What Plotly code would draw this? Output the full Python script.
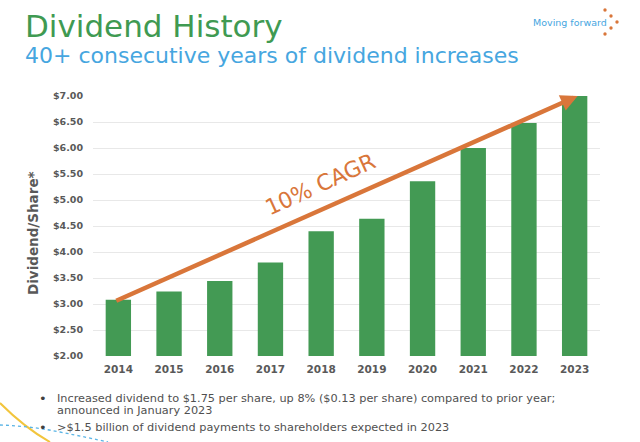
import plotly.graph_objects as go

years = ["2014","2015","2016","2017","2018","2019","2020","2021","2022","2023"]
dividends = [3.08,3.24,3.44,3.80,4.40,4.64,5.36,6.00,6.48,7.00]
y_ticks = [2.0,2.5,3.0,3.5,4.0,4.5,5.0,5.5,6.0,6.5,7.0]
y_labels = ["$%.2f" % v for v in y_ticks]
arrow_start = (-0.07, 3.05)
arrow_end = (9.06, 7.0)

W, H = 640, 442
px = lambda x: x / W
py = lambda y: 1 - y / H
FONT = "DejaVu Sans"
GREEN = "#439A54"
ORANGE = "#D9763A"
BLUE = "#46A6DF"
GRAY = "#595959"

fig = go.Figure(go.Bar(x=years, y=dividends, marker=dict(color=GREEN, line=dict(width=0)), width=0.5,
                       hoverinfo="skip"))

def text(x, y, s, size, color, anchor="left", weight=None, angle=0, va="middle"):
    fig.add_annotation(xref="paper", yref="paper", x=px(x), y=py(y), text=s, showarrow=False,
                       xanchor=anchor, yanchor=va, textangle=angle, borderpad=0, borderwidth=0,
                       font=dict(family=FONT, size=size, color=color, weight=weight))

text(25, 26, "Dividend History", 31, "#3F9A52")
text(25, 55, "40+ consecutive years of dividend increases", 22, BLUE)
text(533, 22, "Moving forward", 9.5, BLUE)
text(39, 398, "•", 13, "#404040")
text(57, 398, "Increased dividend to $1.75 per share, up 8% ($0.13 per share) compared to prior year;", 11.3, "#505050")
text(57, 410, "announced in January 2023", 11.3, "#505050")
text(39, 427, "•", 13, "#404040")
text(57, 427, "&gt;$1.5 billion of dividend payments to shareholders expected in 2023", 11.3, "#505050")
text(320, 184, "10% CAGR", 22, ORANGE, anchor="center", angle=-24.5)
text(33, 233, "Dividend/Share*", 13.5, GRAY, anchor="center", weight="bold", angle=-90)

# Arrow across the bars
fig.add_annotation(xref="x", yref="y", axref="x", ayref="y", x=arrow_end[0], y=arrow_end[1],
                   ax=arrow_start[0], ay=arrow_start[1], text="", showarrow=True,
                   arrowhead=2, arrowsize=0.75, arrowwidth=4.5, arrowcolor=ORANGE)

shapes = []
for cx, cy in [(605,10),(611,16),(617,22),(611,28),(605,34)]:
    shapes.append(dict(type="circle", xref="paper", yref="paper", x0=px(cx-1.7), x1=px(cx+1.7),
                       y0=py(cy+1.7), y1=py(cy-1.7), fillcolor=ORANGE, line_width=0))
shapes.append(dict(type="path", xref="paper", yref="paper", layer="above",
                   path=f"M {px(0)} {py(403)} Q {px(25)} {py(428)} {px(50)} {py(442)}",
                   line=dict(color="#F2C53D", width=2)))
shapes.append(dict(type="path", xref="paper", yref="paper", layer="above",
                   path=f"M {px(0)} {py(425)} Q {px(30)} {py(426)} {px(60)} {py(432)} T {px(108)} {py(442)}",
                   line=dict(color="#5AB4E5", width=1.3, dash="dot")))

fig.update_layout(
    width=W, height=H, margin=dict(l=0, r=0, t=0, b=0), autosize=False,
    paper_bgcolor="white", plot_bgcolor="white", showlegend=False, shapes=shapes,
    xaxis=dict(domain=[px(93), px(600)], type="category", range=[-0.5, 9.5], showgrid=False,
               showline=False, ticks="", zeroline=False, automargin=False, ticklabelstandoff=5,
               tickfont=dict(family=FONT, size=10.5, color=GRAY, weight="bold")),
    yaxis=dict(domain=[py(356), py(96)], range=[2, 7], tickvals=y_ticks, ticktext=y_labels,
               showgrid=True, gridcolor="#E8E8E8", gridwidth=1, zeroline=False, showline=False, ticks="",
               automargin=False, ticklabelstandoff=9,
               tickfont=dict(family=FONT, size=9.5, color=GRAY, weight="bold")),
)
fig.write_html("out.html", config=dict(displayModeBar=False),
               post_script="document.body.style.margin='0';")
